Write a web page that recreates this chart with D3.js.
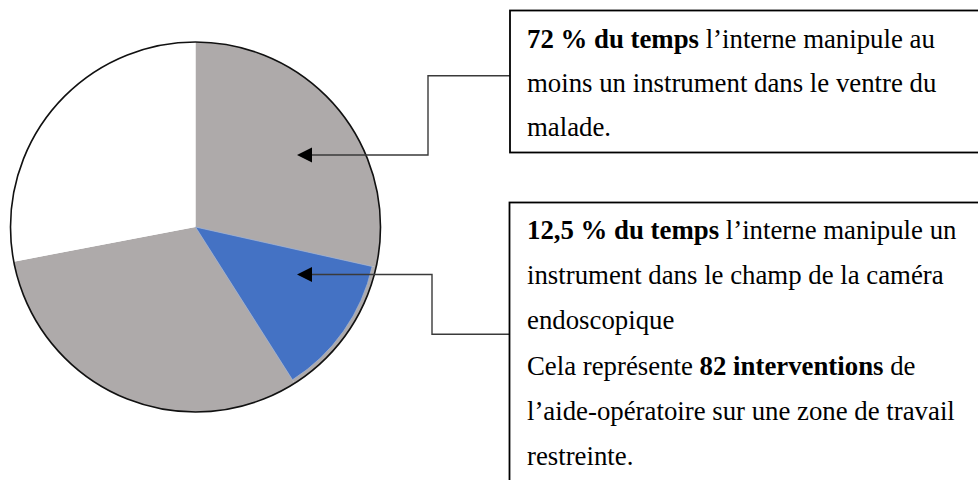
<!DOCTYPE html>
<html>
<head>
<meta charset="utf-8">
<script src="https://cdn.jsdelivr.net/npm/d3@7"></script>
<style>
  body { margin: 0; background: #fff; }
  svg text { font-family: "Liberation Serif", "Times New Roman", serif; fill: #000; }
</style>
</head>
<body>
<div id="chart"></div>
<script>
// Slices, clockwise from 12 o'clock
const sliceNames = ['instrument hors champ (a)', 'instrument dans le champ', 'instrument hors champ (b)', 'aucun instrument'];
const sliceValues = [28.5, 12.5, 31, 28];
const sliceColors = ['#aeaaaa', '#4472c4', '#aeaaaa', '#ffffff'];

// Callout texts: each line is a list of [text, bold]
const callout1 = [
    [['72 % du temps', true], [' l\u2019interne manipule au', false]],
    [['moins un instrument dans le ventre du', false]],
    [['malade.', false]]
];
const callout2 = [
    [['12,5 % du temps', true], [' l\u2019interne manipule un', false]],
    [['instrument dans le champ de la caméra', false]],
    [['endoscopique', false]],
    [['Cela représente ', false], ['82 interventions', true], [' de', false]],
    [['l\u2019aide-opératoire sur une zone de travail', false]],
    [['restreinte.', false]]
];

const width = 978, height = 480;
const cx = 195.5, cy = 227, radius = 185;

const svg = d3.select('#chart')
    .append('svg')
    .attr('width', width)
    .attr('height', height);

// Pie
const pie = d3.pie().sort(null).value(d => d);
const arcs = pie(sliceValues);
const arc = d3.arc().innerRadius(0).outerRadius(radius);
const arcInset = d3.arc().innerRadius(0).outerRadius(radius - 4);

const pieG = svg.append('g').attr('transform', `translate(${cx}, ${cy})`);

pieG.selectAll('.slice')
    .data(arcs)
    .join('path')
        .attr('class', 'slice')
        .attr('fill', (d, i) => i === 1 ? sliceColors[0] : sliceColors[i])
        .attr('d', arc);

// blue slice sits slightly inside the grey ring
pieG.append('path')
    .attr('fill', sliceColors[1])
    .attr('stroke', '#9fb0cf')
    .attr('stroke-width', 0.8)
    .attr('d', arcInset(arcs[1]));

pieG.append('circle')
    .attr('r', radius)
    .attr('fill', 'none')
    .attr('stroke', '#111')
    .attr('stroke-width', 1.6);

// Connectors: box edge -> elbow -> arrow tip
const connectors = [
    [[510, 75.7], [428, 75.7], [428, 155], [305, 155]],
    [[509, 334.3], [432, 334.3], [432, 274.5], [305, 274.5]]
];
connectors.forEach(pts => {
    svg.append('path')
        .attr('d', d3.line()(pts))
        .attr('fill', 'none')
        .attr('stroke', '#3a3a3a')
        .attr('stroke-width', 1.4);

    // arrow head pointing left at the last point
    const tip = [297, pts[pts.length - 1][1]];
    svg.append('path')
        .attr('d', `M${tip[0]},${tip[1]} L${tip[0] + 15},${tip[1] - 7.5} L${tip[0] + 15},${tip[1] + 7.5} Z`)
        .attr('fill', '#000');
});

// Boxes
const boxes = [
    { x: 510, y: 10.5, w: 480, h: 142, lines: callout1, y0: 47.5, step: 44.3 },
    { x: 509.5, y: 202.5, w: 480, h: 300, lines: callout2, y0: 239, step: 45.2 }
];
boxes.forEach(b => {
    svg.append('rect')
        .attr('x', b.x).attr('y', b.y)
        .attr('width', b.w).attr('height', b.h)
        .attr('fill', '#fff')
        .attr('stroke', '#000')
        .attr('stroke-width', 1.8);

    const t = svg.append('text')
        .attr('font-size', 26.8);
    b.lines.forEach((line, i) => {
        line.forEach((seg, j) => {
            const ts = t.append('tspan')
                .attr('font-weight', seg[1] ? 'bold' : 'normal')
                .style('white-space', 'pre')
                .text(seg[0]);
            if (j === 0) ts.attr('x', 527).attr('y', b.y0 + i * b.step);
        });
    });
});
</script>
</body>
</html>
